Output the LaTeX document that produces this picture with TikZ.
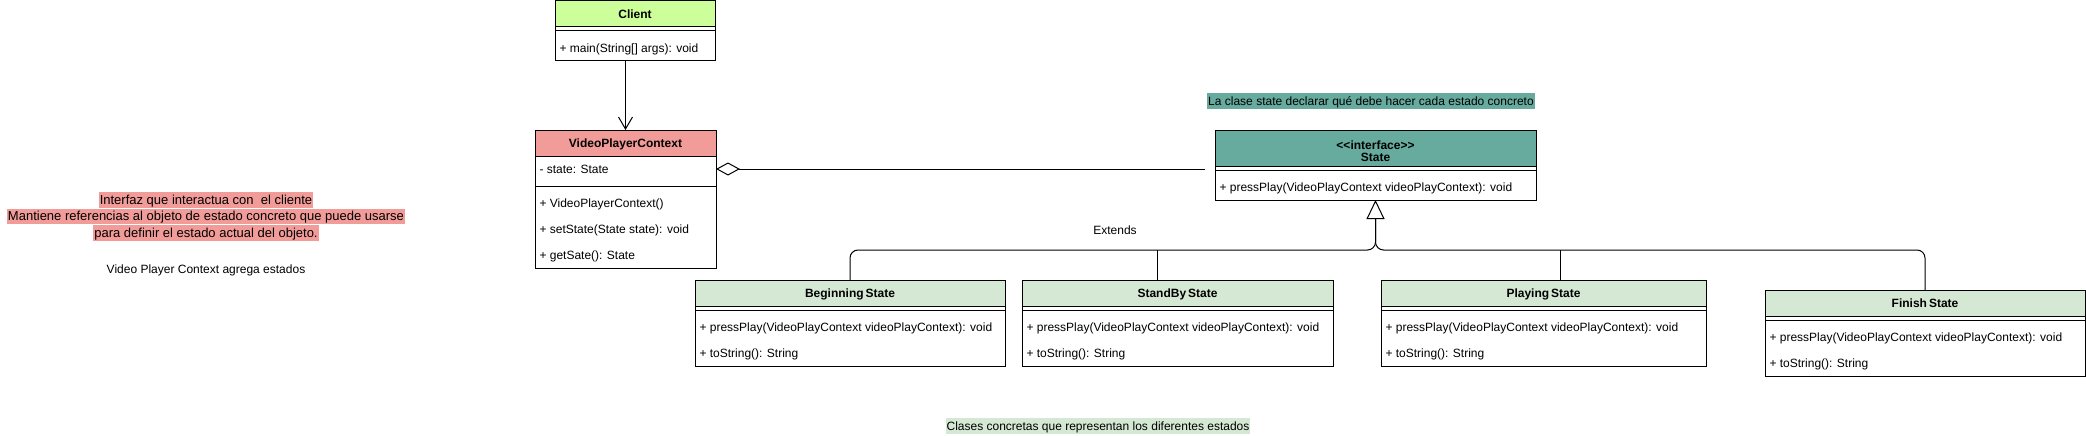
\documentclass[tikz,border=0pt]{standalone}
\usepackage{fontspec}
\setmainfont{Liberation Sans}
\usetikzlibrary{arrows.meta,positioning,calc}
\definecolor{clientgreen}{HTML}{CCFF99}
\definecolor{ctxred}{HTML}{F19C99}
\definecolor{ifteal}{HTML}{67AB9F}
\definecolor{stgreen}{HTML}{D5E8D4}

\begin{document}
\begin{tikzpicture}[
  x=1pt, y=-1pt, line width=1pt,
  font=\fontsize{12}{14}\selectfont,
  cls/.style={draw, fill=white, anchor=north west, inner sep=0pt, outer sep=0pt},
  hdr/.style={draw, anchor=north west, inner sep=0pt, outer sep=0pt, minimum height=26pt, text height=8.5pt, text depth=0pt, font=\fontsize{12}{14}\selectfont\bfseries},
  mem/.style={anchor=west, inner sep=0pt, xshift=4pt, text height=8.5pt, text depth=0pt},
  hl/.style={inner xsep=1pt, inner ysep=1pt, text height=10.9pt, text depth=2.6pt},
  bighl/.style={inner xsep=1pt, inner ysep=0.4pt, text height=11.8pt, text depth=2.8pt, font=\fontsize{13}{15}\selectfont},
]
\useasboundingbox (0,0) rectangle (2086,436);
% client
\node[cls, minimum width=160pt, minimum height=60pt] (client) at (555,1) {};
\node[hdr, fill=clientgreen, minimum width=160pt] (clienthdr) at (client.north west) {Client};
\draw ([yshift=-30pt]client.north west) -- ([yshift=-30pt]client.north east);
\node[mem] (clientm1) at ([yshift=-47pt]client.north west) {+ main(String[] args): void};
% context
\node[cls, minimum width=181pt, minimum height=138pt] (vpc) at (535,130) {};
\node[hdr, fill=ctxred, minimum width=181pt] (vpchdr) at (vpc.north west) {VideoPlayerContext};
\node[mem] (vpcattr) at ([yshift=-39pt]vpc.north west) {- state: State};
\draw ([yshift=-56pt]vpc.north west) -- ([yshift=-56pt]vpc.north east);
\node[mem] (vpcm1) at ([yshift=-73pt]vpc.north west) {+ VideoPlayerContext()};
\node[mem] (vpcm2) at ([yshift=-99pt]vpc.north west) {+ setState(State state): void};
\node[mem] (vpcm3) at ([yshift=-125pt]vpc.north west) {+ getSate(): State};
% interface
\node[cls, minimum width=321pt, minimum height=70pt] (state) at (1215,130) {};
\node[hdr, fill=ifteal, minimum width=321pt, minimum height=36pt] (statehdr) at (state.north west) {};
\node[align=center, inner sep=0pt, font=\fontsize{12}{12.5}\selectfont\bfseries] (statelbl) at ([yshift=-3pt]statehdr.center) {<{}<interface>{}>\\State};
\draw ([yshift=-40pt]state.north west) -- ([yshift=-40pt]state.north east);
\node[mem] (statem1) at ([yshift=-57pt]state.north west) {+ pressPlay(VideoPlayContext videoPlayContext): void};
% concrete states
\node[cls, minimum width=310pt, minimum height=86pt] (beg) at (695,280) {};
\node[hdr, fill=stgreen, minimum width=310pt] (beghdr) at (beg.north west) {Beginning\,State};
\draw ([yshift=-30pt]beg.north west) -- ([yshift=-30pt]beg.north east);
\node[mem] (begm1) at ([yshift=-47pt]beg.north west) {+ pressPlay(VideoPlayContext videoPlayContext): void};
\node[mem] (begm2) at ([yshift=-73pt]beg.north west) {+ toString(): String};
\node[cls, minimum width=311pt, minimum height=86pt] (stb) at (1022,280) {};
\node[hdr, fill=stgreen, minimum width=311pt] (stbhdr) at (stb.north west) {StandBy\,State};
\draw ([yshift=-30pt]stb.north west) -- ([yshift=-30pt]stb.north east);
\node[mem] (stbm1) at ([yshift=-47pt]stb.north west) {+ pressPlay(VideoPlayContext videoPlayContext): void};
\node[mem] (stbm2) at ([yshift=-73pt]stb.north west) {+ toString(): String};
\node[cls, minimum width=325pt, minimum height=86pt] (play) at (1381,280) {};
\node[hdr, fill=stgreen, minimum width=325pt] (playhdr) at (play.north west) {Playing\,State};
\draw ([yshift=-30pt]play.north west) -- ([yshift=-30pt]play.north east);
\node[mem] (playm1) at ([yshift=-47pt]play.north west) {+ pressPlay(VideoPlayContext videoPlayContext): void};
\node[mem] (playm2) at ([yshift=-73pt]play.north west) {+ toString(): String};
\node[cls, minimum width=320pt, minimum height=86pt] (fin) at (1765,290) {};
\node[hdr, fill=stgreen, minimum width=320pt] (finhdr) at (fin.north west) {Finish\,State};
\draw ([yshift=-30pt]fin.north west) -- ([yshift=-30pt]fin.north east);
\node[mem] (finm1) at ([yshift=-47pt]fin.north west) {+ pressPlay(VideoPlayContext videoPlayContext): void};
\node[mem] (finm2) at ([yshift=-73pt]fin.north west) {+ toString(): String};
% notes
\node[bighl, fill=ctxred] (note1) at (206,200) {Interfaz que interactua con\ \ el cliente};
\node[bighl, fill=ctxred, below=0pt of note1] (note2) {Mantiene referencias al objeto de estado concreto que puede usarse};
\node[bighl, fill=ctxred, below=0pt of note2] (note3) {para definir el estado actual del objeto.};
\node (ctxnote) at (206,270) {Video Player Context agrega estados};
\node[hl, fill=ifteal] (ifnote) at (1371,101) {La clase state declarar qué debe hacer cada estado concreto};
\node[hl, fill=stgreen] (concnote) at (1098,426) {Clases concretas que representan los diferentes estados};
% client -> context
\draw[-{Straight Barb[length=12pt, width=14pt]}] (client.south -| vpc.north) -- (vpc.north);
% aggregation
\draw[{Diamond[fill=white, length=24pt, width=13pt]}-, shorten >=10pt] (vpc.east |- vpcattr) -- (state.west |- vpcattr);
% generalization
\coordinate (tri) at ([yshift=-19pt]state.south);
\coordinate (bus) at ([yshift=-50pt]state.south);
\draw[rounded corners=8pt] (beg.north) |- (bus) -- (tri);
\draw[rounded corners=8pt] (fin.north) |- (bus) -- (tri);
\draw ([xshift=-20pt]stb.north) -- ([xshift=-20pt]stb.north |- bus);
\draw ([xshift=17pt]play.north) -- ([xshift=17pt]play.north |- bus);
\draw[-{Triangle[open, length=19pt, width=18pt]}] (tri) -- (state.south);
\node (extlabel) at (1115,230) {Extends};
\end{tikzpicture}
\end{document}
